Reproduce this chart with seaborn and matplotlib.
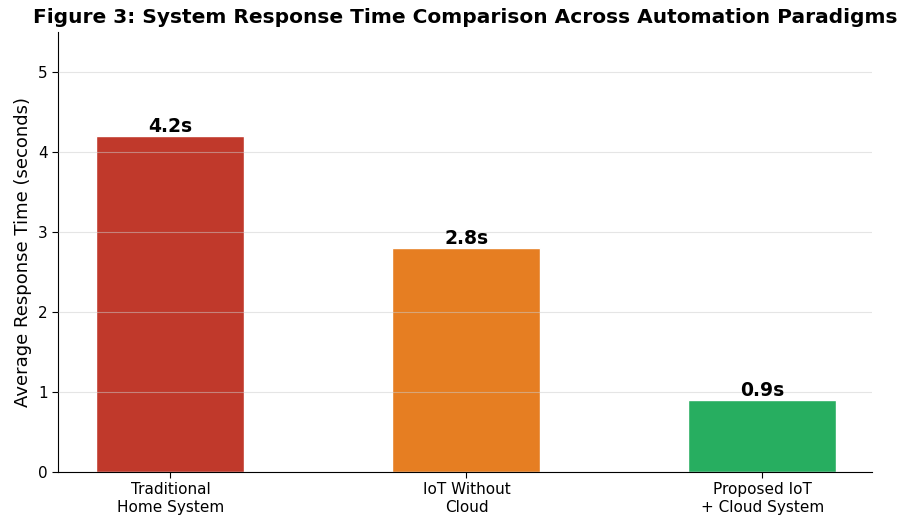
import matplotlib
matplotlib.use("Agg")
import matplotlib.pyplot as plt
import seaborn as sns
import pandas as pd

# Response time per automation paradigm
systems = ["Traditional\nHome System", "IoT Without\nCloud", "Proposed IoT\n+ Cloud System"]
response_times = [4.2, 2.8, 0.9]
value_labels = ["4.2s", "2.8s", "0.9s"]
bar_colors = ["#c0392b", "#e67e22", "#27ae60"]

df = pd.DataFrame({"system": systems, "time": response_times})

sns.set_style("white")
plt.rcParams["font.family"] = ["DejaVu Sans"]
plt.rcParams["text.color"] = "black"
plt.rcParams["axes.labelcolor"] = "black"
plt.rcParams["xtick.color"] = "black"
plt.rcParams["ytick.color"] = "black"

fig = plt.figure(figsize=(8.99, 5.17), dpi=100)
ax = fig.add_axes([58 / 899, 1 - 472 / 517, (872 - 58) / 899, (472 - 32) / 517])

sns.barplot(data=df, x="system", y="time", hue="system", palette=bar_colors,
            saturation=1, width=0.5, edgecolor="white", linewidth=1,
            legend=False, ax=ax)

for patch, lab in zip(ax.patches, value_labels):
    ax.text(patch.get_x() + patch.get_width() / 2, patch.get_height() + 0.0, lab,
            ha="center", va="bottom", fontsize=13.5, fontweight="bold", color="black")

ax.set_xlim(-0.38, 2.37)
ax.set_ylim(0, 5.5)
ax.set_yticks([0, 1, 2, 3, 4, 5])
ax.set_xlabel("")
ax.set_ylabel("Average Response Time (seconds)", fontsize=13)
ax.tick_params(axis="both", labelsize=11, length=4, color="black", left=True, bottom=True)
ax.set_axisbelow(False)
ax.yaxis.grid(True, color="#cccccc", alpha=0.5, linewidth=0.8)
ax.xaxis.grid(False)
sns.despine(ax=ax)
for s in ["left", "bottom"]:
    ax.spines[s].set_color("black")
    ax.spines[s].set_linewidth(0.8)

fig.suptitle("Figure 3: System Response Time Comparison Across Automation Paradigms",
             fontsize=14.5, fontweight="bold", x=0.518, y=0.984, va="top")

fig.savefig("out.png", dpi=100)
